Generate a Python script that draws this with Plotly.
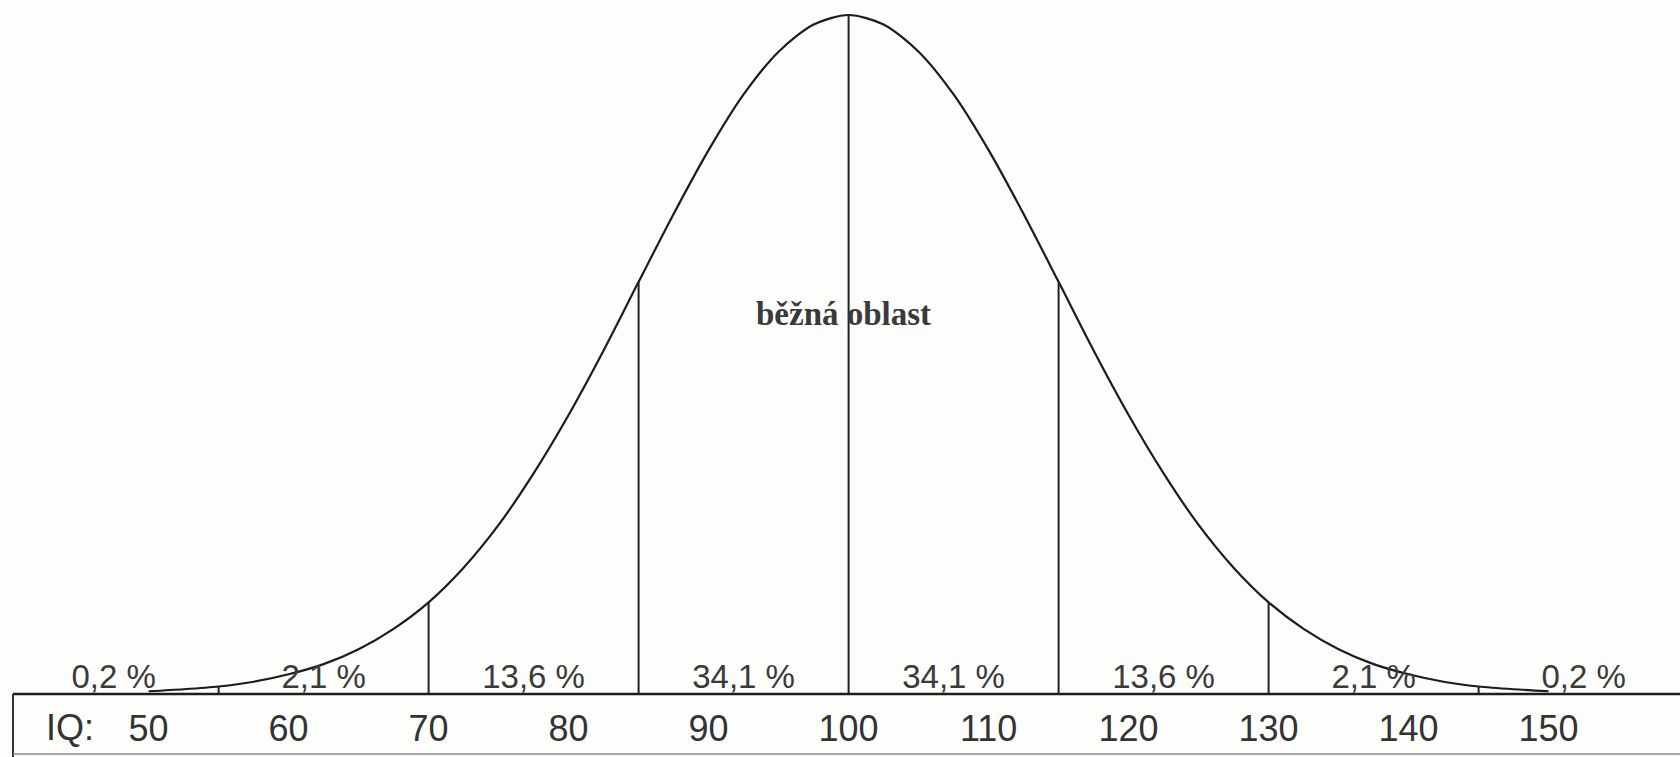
import plotly.graph_objects as go

# IQ scale and bell-curve heights (relative to the peak)
iq_points = [50, 52.5, 55, 57.5, 60, 62.5, 65, 67.5, 70, 72.5, 75, 77.5, 80, 82.5, 85, 87.5,
             90, 92.5, 95, 97.5, 100, 102.5, 105, 107.5, 110, 112.5, 115, 117.5, 120,
             122.5, 125, 127.5, 130, 132.5, 135, 137.5, 140, 142.5, 145, 147.5, 150]
curve_height = [0.004, 0.007, 0.011, 0.018, 0.029, 0.044, 0.066, 0.096, 0.135, 0.186, 0.249,
                0.325, 0.411, 0.506, 0.607, 0.707, 0.801, 0.883, 0.946, 0.986, 1.000,
                0.986, 0.946, 0.883, 0.801, 0.707, 0.607, 0.506, 0.411, 0.325, 0.249,
                0.186, 0.135, 0.096, 0.066, 0.044, 0.029, 0.018, 0.011, 0.007, 0.004]

# boundaries of the bands (vertical lines under the curve)
boundaries = [55, 70, 85, 100, 115, 130, 145]

# share of population in each band and band centres
band_centres = [47.5, 62.5, 77.5, 92.5, 107.5, 122.5, 137.5, 152.5]
band_labels = ["0,2 %", "2,1 %", "13,6 %", "34,1 %", "34,1 %", "13,6 %", "2,1 %", "0,2 %"]

tick_values = [50, 60, 70, 80, 90, 100, 110, 120, 130, 140, 150]
tick_labels = [str(v) for v in tick_values]

axis_title = "IQ:"
region_label = "běžná oblast"

W, H = 1680, 757
X_RANGE = [39.386, 159.386]
Y_RANGE = [-0.0928, 1.0221]

fig = go.Figure()

# bell curve
fig.add_trace(go.Scatter(
    x=iq_points, y=curve_height, mode="lines",
    line=dict(color="#1c1c1c", width=2.2, shape="spline", smoothing=0.8),
    hoverinfo="skip", showlegend=False))

# vertical band boundaries, from the baseline up to the curve
vx, vy = [], []
for b in boundaries:
    h = curve_height[iq_points.index(b)]
    vx += [b, b, None]
    vy += [0, h, None]
fig.add_trace(go.Scatter(
    x=vx, y=vy, mode="lines",
    line=dict(color="#222222", width=2),
    hoverinfo="skip", showlegend=False))

# percentage labels
fig.add_trace(go.Scatter(
    x=band_centres, y=[0.021] * len(band_centres), mode="text",
    text=band_labels, textposition="middle center",
    textfont=dict(family="Liberation Sans, Arial, sans-serif", size=33, color="#3a3a3a"),
    hoverinfo="skip", showlegend=False))

# baseline (top of the IQ box), box left side and bottom
box_left = 13 / W
fig.add_shape(type="line", xref="paper", yref="y", x0=box_left, x1=1, y0=0, y1=0,
              line=dict(color="#1e1e1e", width=2.5))
fig.add_shape(type="line", xref="paper", yref="y", x0=box_left, x1=box_left, y0=0, y1=Y_RANGE[0],
              line=dict(color="#333333", width=2))
fig.add_shape(type="line", xref="paper", yref="paper", x0=box_left, x1=1, y0=3 / H, y1=3 / H,
              line=dict(color="#8a8a8a", width=1.5))

# "IQ:" label
fig.add_annotation(x=44.4, y=-0.050, xref="x", yref="y", text=axis_title, showarrow=False,
                   font=dict(family="Liberation Sans, Arial, sans-serif", size=36, color="#333333"),
                   xanchor="center", yanchor="middle")

# region label
fig.add_annotation(x=99.6, y=0.5596, xref="x", yref="y", text="<b>" + region_label + "</b>",
                   showarrow=False,
                   font=dict(family="Liberation Serif, Times New Roman, serif", size=33, color="#3a3a3a"),
                   xanchor="center", yanchor="middle")

fig.update_layout(
    width=W, height=H,
    margin=dict(l=0, r=0, t=0, b=0),
    paper_bgcolor="#fdfdfc", plot_bgcolor="#fdfdfc",
    showlegend=False,
    xaxis=dict(range=X_RANGE, showgrid=False, zeroline=False, showline=False,
               tickmode="array", tickvals=tick_values, ticktext=tick_labels,
               ticks="", anchor="free", position=(H - 704) / H,
               tickfont=dict(family="Liberation Sans, Arial, sans-serif", size=36, color="#333333")),
    yaxis=dict(range=Y_RANGE, showgrid=False, zeroline=False, showline=False,
               showticklabels=False, ticks=""),
)

fig.write_html("out.html", config={"displayModeBar": False},
               post_script="document.body.style.margin='0';document.body.style.overflow='hidden';")
